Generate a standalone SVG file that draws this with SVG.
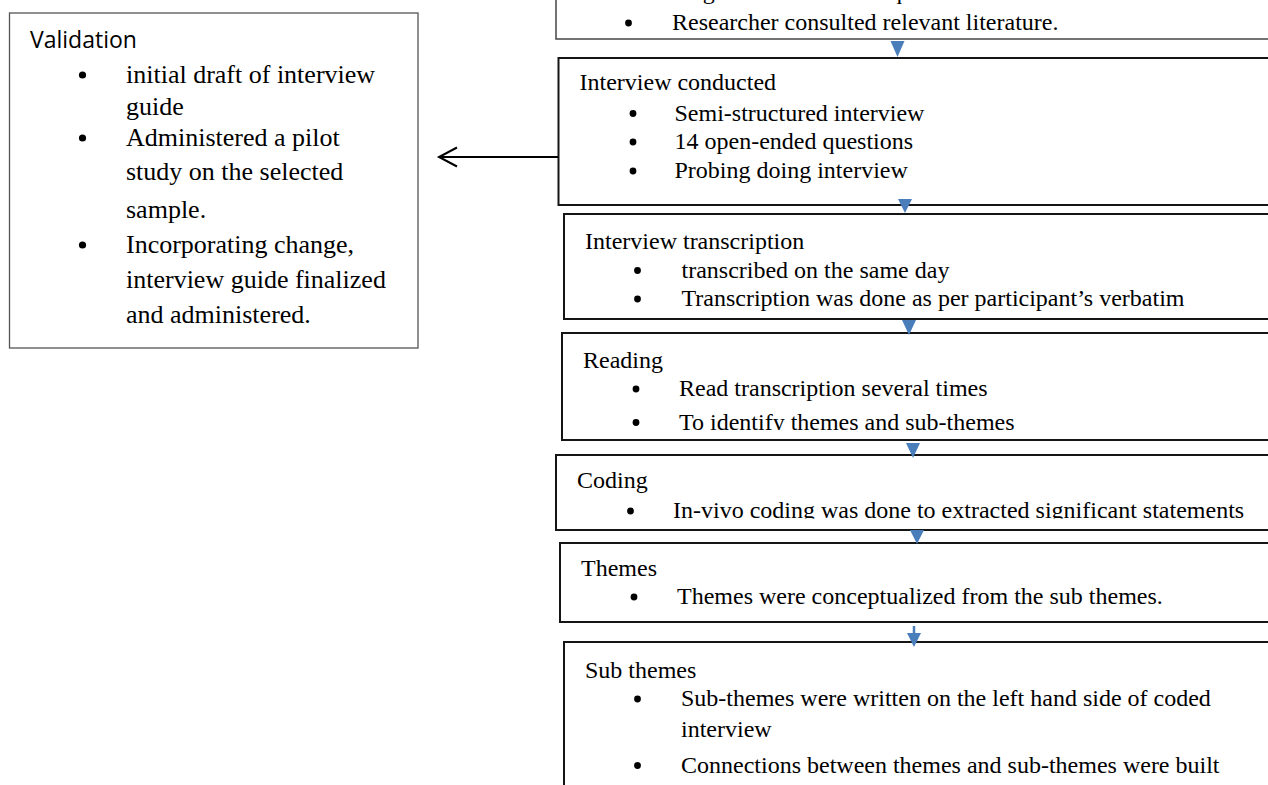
<svg xmlns="http://www.w3.org/2000/svg" width="1268" height="785" viewBox="0 0 1268 785">
  <style>
    .box { fill: #ffffff; stroke: #151515; stroke-width: 2; }
    .vbox { fill: #ffffff; stroke: #555555; stroke-width: 1.3; }
    .tbox { fill: #ffffff; stroke: #444444; stroke-width: 1.5; }
    .s { font-family: "Liberation Serif", "Times New Roman", serif; font-size: 24px; fill: #000000; }
    .v { font-family: "Liberation Serif", "Times New Roman", serif; font-size: 26px; fill: #000000; }
    .h { font-family: "Open Sans", "Noto Sans", sans-serif; font-size: 23px; fill: #000000; }
    .b { fill: #000000; }
    .blue { fill: #4A7EBB; }
    .bstem { stroke: #4A7EBB; stroke-width: 2.5; }
    .line { stroke: #000000; stroke-width: 2; fill: none; }
  </style>
  <defs>
    <clipPath id="clipReading"><rect x="560" y="330" width="720" height="100"/></clipPath>
    <clipPath id="clipCoding"><rect x="550" y="450" width="730" height="68.6"/></clipPath>
    <marker id="openArrow" markerWidth="22" markerHeight="24" refX="19" refY="11" orient="auto" markerUnits="userSpaceOnUse">
      <path d="M1,1.5 L19,11 L1,20.5" fill="none" stroke="#000000" stroke-width="2"/>
    </marker>
  </defs>
  <rect x="0" y="0" width="1268" height="785" fill="#ffffff"/>

  <g id="validation">
    <rect class="vbox" x="9.5" y="13" width="408.5" height="335"/>
    <text class="h" x="30" y="48">Validation</text>
    <circle class="b" cx="82.5" cy="75" r="3.6"/>
    <text class="v" x="126" y="82.8">initial draft of interview</text>
    <text class="v" x="126" y="114.5">guide</text>
    <circle class="b" cx="82.5" cy="138" r="3.6"/>
    <text class="v" x="126" y="146">Administered a pilot</text>
    <text class="v" x="126" y="179.5">study on the selected</text>
    <text class="v" x="126" y="218">sample.</text>
    <circle class="b" cx="82.5" cy="245" r="3.6"/>
    <text class="v" x="126" y="253">Incorporating change,</text>
    <text class="v" x="126" y="288">interview guide finalized</text>
    <text class="v" x="126" y="323">and administered.</text>
  </g>

  <g id="literature">
    <rect class="tbox" x="556" y="-10" width="730" height="49"/>
    <text class="s" x="672" y="-1.5">Aligned with research questions</text>
    <circle class="b" cx="628.5" cy="23" r="3.4"/>
    <text class="s" x="672" y="30">Researcher consulted relevant literature.</text>
  </g>

  <g id="interview-conducted">
    <rect class="box" x="558.5" y="58" width="720" height="147"/>
    <text class="s" x="579.5" y="90">Interview conducted</text>
    <circle class="b" cx="633" cy="113.5" r="3.4"/>
    <text class="s" x="674.5" y="120.5">Semi-structured interview</text>
    <circle class="b" cx="633" cy="142" r="3.4"/>
    <text class="s" x="674.5" y="149">14 open-ended questions</text>
    <circle class="b" cx="633" cy="171" r="3.4"/>
    <text class="s" x="674.5" y="178">Probing doing interview</text>
  </g>

  <g id="interview-transcription">
    <rect class="box" x="564" y="214" width="715" height="105"/>
    <text class="s" x="585" y="249">Interview transcription</text>
    <circle class="b" cx="637.5" cy="270.5" r="3.4"/>
    <text class="s" x="681.5" y="277.5">transcribed on the same day</text>
    <circle class="b" cx="637.5" cy="299" r="3.4"/>
    <text class="s" x="681.5" y="306">Transcription was done as per participant’s verbatim</text>
  </g>

  <g id="reading">
    <rect class="box" x="562" y="333" width="717" height="107"/>
    <text class="s" x="583" y="367.5">Reading</text>
    <circle class="b" cx="636" cy="389" r="3.4"/>
    <text class="s" x="679" y="396">Read transcription several times</text>
    <circle class="b" cx="636" cy="422.5" r="3.4"/>
    <text class="s" x="679" y="429.5" clip-path="url(#clipReading)">To identify themes and sub-themes</text>
  </g>

  <g id="coding">
    <rect class="box" x="556" y="455" width="723" height="75"/>
    <text class="s" x="577" y="487.5">Coding</text>
    <circle class="b" cx="630.5" cy="511" r="3.4"/>
    <text class="s" x="673" y="518" clip-path="url(#clipCoding)">In-vivo coding was done to extracted significant statements</text>
  </g>

  <g id="themes">
    <rect class="box" x="560" y="543" width="719" height="79"/>
    <text class="s" x="581" y="576">Themes</text>
    <circle class="b" cx="634" cy="597" r="3.4"/>
    <text class="s" x="677" y="604">Themes were conceptualized from the sub themes.</text>
  </g>

  <g id="sub-themes">
    <rect class="box" x="564" y="642" width="715" height="160"/>
    <text class="s" x="585" y="677.5">Sub themes</text>
    <circle class="b" cx="637.5" cy="699" r="3.4"/>
    <text class="s" x="681" y="706">Sub-themes were written on the left hand side of coded</text>
    <text class="s" x="681" y="737">interview</text>
    <circle class="b" cx="637.5" cy="765.5" r="3.4"/>
    <text class="s" x="681" y="772.5">Connections between themes and sub-themes were built</text>
  </g>

  <g id="connectors">
    <polygon class="blue" points="890.5,41 904.5,41 897.5,57"/>
    <polygon class="blue" points="898,199 912,199 905,213"/>
    <polygon class="blue" points="902,320 916,320 909,335"/>
    <polygon class="blue" points="906,443 920,443 913,458"/>
    <polygon class="blue" points="910,530 924,530 917,544"/>
    <line class="bstem" x1="914" y1="626" x2="914" y2="634"/>
    <polygon class="blue" points="907,633 921,633 914,647"/>
    <line class="line" x1="558" y1="157" x2="439" y2="157" marker-end="url(#openArrow)"/>
  </g>
</svg>
